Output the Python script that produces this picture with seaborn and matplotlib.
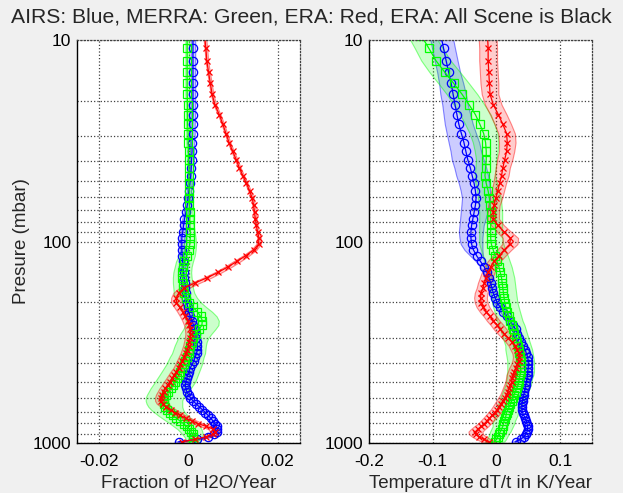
import numpy as np
import matplotlib
matplotlib.use("Agg")
import matplotlib.pyplot as plt
import seaborn as sns
from matplotlib.ticker import FixedLocator, NullFormatter

# AIRS 100-layer pressure levels between ~10 and 1000 mbar
pressure = [9.5119, 11.0038, 12.6492, 14.4559, 16.4318, 18.5847, 20.9224, 23.4526,
            26.1829, 29.1210, 32.2744, 35.6505, 39.2566, 43.1001, 47.1882, 51.5278,
            56.1260, 60.9895, 66.1253, 71.5398, 77.2396, 83.2310, 89.5204, 96.1138,
            103.0172, 110.2366, 117.7775, 125.6456, 133.8462, 142.3848, 151.2664,
            160.4959, 170.0784, 180.0183, 190.3203, 200.9887, 212.0277, 223.4415,
            235.2338, 247.4085, 259.9691, 272.9191, 286.2617, 300.0000, 314.1369,
            328.6753, 343.6176, 358.9665, 374.7241, 390.8926, 407.4738, 424.4698,
            441.8819, 459.7118, 477.9607, 496.6298, 515.7200, 535.2322, 555.1669,
            575.5248, 596.3062, 617.5112, 639.1398, 661.1920, 683.6673, 706.5654,
            729.8857, 753.6275, 777.7897, 802.3714, 827.3713, 852.7880, 878.6201,
            904.8659, 931.5236, 958.5911, 986.0666]

# water vapour trends (fraction / year)
wv_airs = [0.0010, 0.0010, 0.0010, 0.0010, 0.0010, 0.0010, 0.0010, 0.0010,
           0.0009, 0.0009, 0.0008, 0.0008, 0.0007, 0.0006, 0.0005, 0.0003,
           0.0001, -0.0001, -0.0003, -0.0006, -0.0009, -0.0011, -0.0013, -0.0015,
           -0.0015, -0.0015, -0.0014, -0.0013, -0.0012, -0.0011, -0.0010,
           -0.0008, -0.0007, -0.0006, -0.0005, -0.0004, -0.0002, 0.0000,
           0.0004, 0.0008, 0.0011, 0.0014, 0.0016, 0.0017, 0.0019,
           0.0020, 0.0020, 0.0018, 0.0015, 0.0012, 0.0008, 0.0004,
           0.0001, -0.0002, -0.0004, -0.0006, -0.0007, -0.0006, -0.0004,
           0.0000, 0.0004, 0.0010, 0.0017, 0.0024, 0.0031, 0.0038,
           0.0044, 0.0050, 0.0055, 0.0059, 0.0063, 0.0065, 0.0064,
           0.0058, 0.0044, 0.0020, -0.0022]
wv_merra = [-0.0003, -0.0003, -0.0003, -0.0003, -0.0003, -0.0003, -0.0002, -0.0002,
            -0.0002, -0.0001, -0.0001, 0.0000, 0.0000, 0.0001, 0.0001, 0.0001,
            0.0002, 0.0002, 0.0002, 0.0003, 0.0003, 0.0003, 0.0004, 0.0004,
            0.0003, 0.0000, -0.0004, -0.0009, -0.0012, -0.0014, -0.0014,
            -0.0013, -0.0012, -0.0010, -0.0006, 0.0001, 0.0010, 0.0020,
            0.0027, 0.0031, 0.0030, 0.0024, 0.0017, 0.0011, 0.0007,
            0.0004, 0.0002, 0.0000, -0.0004, -0.0007, -0.0010, -0.0014,
            -0.0018, -0.0022, -0.0026, -0.0030, -0.0035, -0.0040, -0.0045,
            -0.0050, -0.0054, -0.0055, -0.0054, -0.0052, -0.0048, -0.0042,
            -0.0035, -0.0027, -0.0019, -0.0011, -0.0004, 0.0002, 0.0006,
            0.0009, 0.0011, 0.0011, 0.0010]
wv_era = [0.0036, 0.0039, 0.0041, 0.0045, 0.0049, 0.0053, 0.0059, 0.0069,
          0.0077, 0.0084, 0.0091, 0.0099, 0.0107, 0.0114, 0.0122, 0.0130,
          0.0137, 0.0143, 0.0146, 0.0148, 0.0150, 0.0152, 0.0155, 0.0158,
          0.0157, 0.0146, 0.0128, 0.0108, 0.0088, 0.0066, 0.0042,
          0.0015, -0.0010, -0.0022, -0.0027, -0.0027, -0.0020, -0.0013,
          -0.0007, -0.0002, 0.0002, 0.0004, 0.0005, 0.0004, 0.0002,
          0.0000, -0.0003, -0.0006, -0.0010, -0.0014, -0.0018, -0.0022,
          -0.0027, -0.0032, -0.0037, -0.0042, -0.0047, -0.0052, -0.0056,
          -0.0060, -0.0062, -0.0062, -0.0058, -0.0050, -0.0040, -0.0030,
          -0.0018, -0.0006, 0.0008, 0.0022, 0.0040, 0.0055, 0.0060,
          0.0055, 0.0040, 0.0015, -0.0015]

# uncertainty half widths (water vapour)
wv_airs_err = [0.0005, 0.0005, 0.0005, 0.0005, 0.0005, 0.0005, 0.0005, 0.0005,
               0.0005, 0.0005, 0.0005, 0.0005, 0.0005, 0.0005, 0.0005, 0.0005,
               0.0005, 0.0005, 0.0005, 0.0005, 0.0005, 0.0005, 0.0005, 0.0005,
               0.0005, 0.0005, 0.0005, 0.0005, 0.0005, 0.0005, 0.0005,
               0.0005, 0.0005, 0.0005, 0.0005, 0.0005, 0.0005, 0.0005,
               0.0005, 0.0005, 0.0005, 0.0005, 0.0005, 0.0005, 0.0005,
               0.0005, 0.0005, 0.0005, 0.0005, 0.0005, 0.0005, 0.0005,
               0.0005, 0.0005, 0.0005, 0.0005, 0.0005, 0.0005, 0.0005,
               0.0006, 0.0006, 0.0006, 0.0006, 0.0006, 0.0006, 0.0006,
               0.0007, 0.0007, 0.0007, 0.0007, 0.0007, 0.0007, 0.0008,
               0.0008, 0.0008, 0.0008, 0.0008]
wv_merra_err = [0.0004, 0.0004, 0.0004, 0.0004, 0.0004, 0.0004, 0.0004, 0.0004,
                0.0004, 0.0004, 0.0004, 0.0004, 0.0004, 0.0004, 0.0004, 0.0004,
                0.0004, 0.0005, 0.0005, 0.0006, 0.0007, 0.0008, 0.0010, 0.0012,
                0.0014, 0.0016, 0.0018, 0.0019, 0.0019, 0.0020, 0.0021,
                0.0022, 0.0022, 0.0023, 0.0025, 0.0027, 0.0030, 0.0033,
                0.0036, 0.0037, 0.0037, 0.0036, 0.0035, 0.0034, 0.0034,
                0.0035, 0.0036, 0.0037, 0.0038, 0.0039, 0.0040, 0.0041,
                0.0042, 0.0043, 0.0044, 0.0045, 0.0045, 0.0045, 0.0044,
                0.0043, 0.0042, 0.0041, 0.0040, 0.0038, 0.0036, 0.0034,
                0.0033, 0.0032, 0.0031, 0.0030, 0.0029, 0.0027, 0.0025,
                0.0023, 0.0020, 0.0017, 0.0015]
wv_era_err = [0.0003, 0.0003, 0.0003, 0.0003, 0.0003, 0.0003, 0.0003, 0.0003,
              0.0003, 0.0003, 0.0003, 0.0003, 0.0003, 0.0003, 0.0003, 0.0003,
              0.0003, 0.0003, 0.0003, 0.0003, 0.0003, 0.0003, 0.0003, 0.0004,
              0.0005, 0.0006, 0.0007, 0.0008, 0.0008, 0.0008, 0.0009,
              0.0010, 0.0011, 0.0012, 0.0012, 0.0012, 0.0012, 0.0012,
              0.0012, 0.0012, 0.0012, 0.0012, 0.0012, 0.0012, 0.0012,
              0.0012, 0.0012, 0.0012, 0.0012, 0.0012, 0.0012, 0.0012,
              0.0013, 0.0013, 0.0013, 0.0013, 0.0013, 0.0013, 0.0013,
              0.0013, 0.0013, 0.0013, 0.0013, 0.0012, 0.0012, 0.0012,
              0.0012, 0.0012, 0.0012, 0.0012, 0.0012, 0.0011, 0.0011,
              0.0010, 0.0009, 0.0008, 0.0007]

# temperature trends (K / year)
t_airs = [-0.087, -0.083, -0.079, -0.075, -0.071, -0.068, -0.065, -0.062,
          -0.059, -0.055, -0.051, -0.048, -0.045, -0.041, -0.038, -0.035,
          -0.033, -0.032, -0.033, -0.035, -0.037, -0.039, -0.040, -0.040,
          -0.039, -0.036, -0.031, -0.025, -0.019, -0.015, -0.012,
          -0.009, -0.007, -0.005, -0.002, 0.001, 0.006, 0.011,
          0.016, 0.021, 0.026, 0.030, 0.033, 0.036, 0.039,
          0.042, 0.045, 0.047, 0.049, 0.050, 0.050, 0.050,
          0.049, 0.049, 0.048, 0.047, 0.046, 0.045, 0.044,
          0.043, 0.042, 0.041, 0.040, 0.040, 0.040, 0.041,
          0.043, 0.045, 0.047, 0.048, 0.049, 0.049, 0.048,
          0.046, 0.043, 0.038, 0.030]
t_merra = [-0.118, -0.106, -0.095, -0.081, -0.067, -0.054, -0.043, -0.033,
           -0.026, -0.020, -0.017, -0.016, -0.016, -0.017, -0.018, -0.016,
           -0.013, -0.011, -0.010, -0.009, -0.009, -0.009, -0.009, -0.009,
           -0.008, -0.005, -0.002, 0.001, 0.004, 0.006, 0.008,
           0.009, 0.010, 0.011, 0.012, 0.013, 0.015, 0.017,
           0.019, 0.021, 0.024, 0.026, 0.028, 0.030, 0.032,
           0.034, 0.035, 0.036, 0.037, 0.038, 0.038, 0.038,
           0.038, 0.037, 0.036, 0.035, 0.034, 0.032, 0.030,
           0.028, 0.026, 0.024, 0.022, 0.020, 0.018, 0.016,
           0.015, 0.014, 0.012, 0.011, 0.010, 0.008, 0.006,
           0.004, 0.002, 0.000, -0.003]
t_era = [-0.014, -0.013, -0.013, -0.012, -0.011, -0.010, -0.005, 0.003,
         0.010, 0.016, 0.017, 0.016, 0.013, 0.010, 0.008, 0.005,
         0.002, -0.001, -0.004, -0.005, -0.005, 0.002, 0.012, 0.022,
         0.021, 0.012, 0.004, -0.004, -0.009, -0.013, -0.016,
         -0.019, -0.021, -0.024, -0.025, -0.024, -0.021, -0.016,
         -0.010, -0.005, 0.001, 0.006, 0.012, 0.018, 0.024,
         0.029, 0.032, 0.035, 0.036, 0.035, 0.033, 0.030,
         0.028, 0.026, 0.025, 0.024, 0.022, 0.020, 0.018,
         0.016, 0.013, 0.010, 0.007, 0.004, 0.001, -0.003,
         -0.007, -0.011, -0.015, -0.019, -0.024, -0.029, -0.033,
         -0.032, -0.027, -0.020, -0.012]

# uncertainty half widths (temperature)
t_airs_err = [0.018, 0.018, 0.018, 0.018, 0.019, 0.020, 0.020, 0.021,
              0.022, 0.023, 0.024, 0.024, 0.025, 0.025, 0.025, 0.024,
              0.023, 0.022, 0.022, 0.021, 0.020, 0.019, 0.019, 0.018,
              0.017, 0.014, 0.010, 0.007, 0.006, 0.005, 0.005,
              0.005, 0.005, 0.005, 0.005, 0.005, 0.005, 0.005,
              0.005, 0.005, 0.005, 0.005, 0.005, 0.005, 0.005,
              0.005, 0.005, 0.005, 0.005, 0.005, 0.005, 0.005,
              0.005, 0.005, 0.005, 0.005, 0.005, 0.005, 0.005,
              0.005, 0.005, 0.005, 0.005, 0.005, 0.005, 0.005,
              0.005, 0.005, 0.005, 0.005, 0.005, 0.005, 0.005,
              0.005, 0.005, 0.005, 0.005]
t_merra_err = [0.021, 0.022, 0.023, 0.024, 0.024, 0.024, 0.024, 0.024,
               0.023, 0.022, 0.020, 0.018, 0.016, 0.016, 0.016, 0.017,
               0.017, 0.018, 0.018, 0.018, 0.018, 0.018, 0.018, 0.018,
               0.019, 0.019, 0.020, 0.020, 0.020, 0.020, 0.020,
               0.020, 0.020, 0.020, 0.020, 0.020, 0.020, 0.020,
               0.020, 0.020, 0.020, 0.020, 0.020, 0.020, 0.020,
               0.020, 0.021, 0.021, 0.021, 0.021, 0.021, 0.021,
               0.021, 0.021, 0.020, 0.020, 0.020, 0.020, 0.020,
               0.020, 0.020, 0.019, 0.019, 0.019, 0.018, 0.018,
               0.018, 0.017, 0.017, 0.017, 0.016, 0.016, 0.016,
               0.015, 0.015, 0.015, 0.015]
t_era_err = [0.014, 0.014, 0.014, 0.014, 0.014, 0.013, 0.013, 0.013,
             0.013, 0.013, 0.013, 0.012, 0.012, 0.011, 0.011, 0.010,
             0.010, 0.010, 0.009, 0.009, 0.009, 0.010, 0.011, 0.012,
             0.012, 0.011, 0.010, 0.010, 0.010, 0.010, 0.010,
             0.010, 0.010, 0.010, 0.010, 0.010, 0.010, 0.010,
             0.010, 0.010, 0.010, 0.010, 0.010, 0.010, 0.010,
             0.010, 0.010, 0.010, 0.010, 0.010, 0.010, 0.010,
             0.010, 0.010, 0.010, 0.010, 0.010, 0.010, 0.010,
             0.010, 0.010, 0.010, 0.010, 0.010, 0.010, 0.010,
             0.010, 0.010, 0.010, 0.010, 0.011, 0.011, 0.011,
             0.011, 0.011, 0.011, 0.011]

title = "AIRS: Blue, MERRA: Green, ERA: Red, ERA: All Scene is Black"
major_p = [10, 100, 1000]
minor_p = [20, 30, 40, 50, 60, 70, 80, 90, 200, 300, 400, 500, 600, 700, 800, 900]

sns.set_style("white")
plt.rcParams['font.family'] = ['Liberation Sans', 'DejaVu Sans']

fig = plt.figure(figsize=(6.23, 4.93), dpi=100)
fig.patch.set_facecolor('#f0f0f0')

ax1 = fig.add_axes([77 / 623, 50 / 493, 223 / 623, 403 / 493])
ax2 = fig.add_axes([369 / 623, 50 / 493, 223 / 623, 403 / 493])

styles = [('b', 'o', 6.0), ((0, 1, 0), 's', 5.3), ('r', 'x', 4.2)]


def draw_panel(ax, series, errs, xlim, xticks, xticklabels, xlabel):
    for vals, err, (c, m, ms) in zip(series, errs, styles):
        v = np.array(vals)
        e = np.array(err)
        rgb = matplotlib.colors.to_rgb(c)
        ax.fill_betweenx(pressure, v - e, v + e, facecolor=rgb + (0.2,),
                         edgecolor=rgb + (0.45,), linewidth=0.8)
    for vals, (c, m, ms) in zip(series, styles):
        sns.lineplot(x=vals, y=pressure, ax=ax, sort=False, estimator=None,
                     color=c, marker=m, markersize=ms, markerfacecolor='none',
                     markeredgecolor=c, markeredgewidth=0.9, linewidth=0.9)

    ax.set_yscale('log')
    ax.set_ylim(1000, 10)
    ax.set_xlim(*xlim)
    ax.yaxis.set_major_locator(FixedLocator(major_p))
    ax.yaxis.set_minor_locator(FixedLocator(minor_p))
    ax.yaxis.set_minor_formatter(NullFormatter())
    ax.set_yticklabels([str(p) for p in major_p])
    ax.set_xticks(xticks)
    ax.set_xticklabels(xticklabels)
    ax.grid(True, which='major', linestyle=':', color='0.25', linewidth=0.9)
    ax.grid(True, which='minor', axis='y', linestyle=':', color='0.25', linewidth=0.9)
    ax.tick_params(axis='both', which='both', direction='in', labelsize=12.5,
                   length=4, width=0.8, colors='black')
    ax.tick_params(axis='x', pad=8)
    ax.tick_params(axis='y', pad=4)
    ax.tick_params(axis='y', which='minor', length=2)
    for side in ['left', 'bottom']:
        ax.spines[side].set_color('black')
        ax.spines[side].set_linewidth(1.0)
    for side in ['top', 'right']:
        ax.spines[side].set_linestyle(':')
        ax.spines[side].set_color('0.25')
        ax.spines[side].set_linewidth(0.9)
    ax.set_xlabel(xlabel, fontsize=13.5, labelpad=4)
    ax.set_ylabel('')
    ax.set_facecolor('white')


draw_panel(ax1, [wv_airs, wv_merra, wv_era], [wv_airs_err, wv_merra_err, wv_era_err],
           (-0.025, 0.025), [-0.02, 0, 0.02], ['-0.02', '0', '0.02'],
           'Fraction of H2O/Year')
draw_panel(ax2, [t_airs, t_merra, t_era], [t_airs_err, t_merra_err, t_era_err],
           (-0.2, 0.15), [-0.2, -0.1, 0, 0.1], ['-0.2', '-0.1', '0', '0.1'],
           'Temperature dT/t in K/Year')

ax1.set_ylabel('Presure (mbar)', fontsize=13.5, labelpad=2)
fig.text(0.5, 1 - 17 / 493, title, ha='center', va='center', fontsize=15.2)

fig.savefig('out.png', dpi=100, facecolor=fig.get_facecolor())
